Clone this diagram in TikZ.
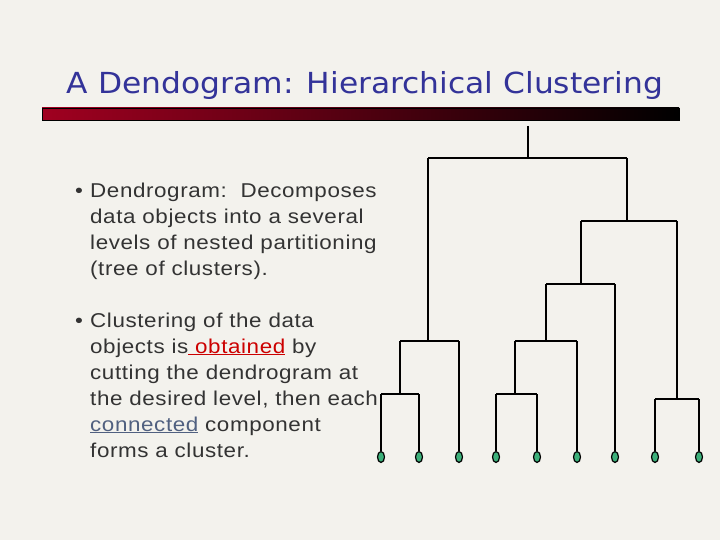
\documentclass[tikz,border=0pt]{standalone}
\usepackage{fontspec}
\setmainfont{Liberation Sans}
\newfontfamily\bodyf[FakeStretch=1.12,LetterSpace=3]{Liberation Sans}
\newfontfamily\titlef[FakeStretch=1.08]{DejaVu Sans}
\usetikzlibrary{shapes.geometric}
\definecolor{bg}{HTML}{F3F2ED}
\definecolor{ttl}{HTML}{333399}
\definecolor{txt}{HTML}{333333}
\definecolor{barL}{HTML}{A00020}
\definecolor{leafc}{HTML}{3CB07A}
\definecolor{lnk}{HTML}{506080}
\begin{document}
\begin{tikzpicture}[x=1pt,y=-1pt,
  ln/.style={anchor=base west,inner sep=0pt,text=txt,font=\bodyf\fontsize{20}{24}\selectfont},
  br/.style={line width=2.4pt,black},
  leaf/.style={ellipse,draw=black,line width=1.2pt,fill=leafc,minimum width=7pt,minimum height=11pt,inner sep=0pt}]
\fill[bg] (0,0) rectangle (720,540);
\useasboundingbox (0,0) rectangle (720,540);
\node[anchor=base,text=ttl,font=\titlef\fontsize{29}{34}\selectfont,inner sep=0pt] (title) at (365,94) {A Dendogram: Hierarchical Clustering};
\shade[left color=barL,right color=black] (42,108) rectangle (679,120);
\draw[black,line width=0.8pt] (42,108) rectangle (679,120);
% bullets
\node[ln] (b1) at (75,197) {•};
\node[ln] (l1) at (90,197) {Dendrogram:\ \ Decomposes};
\node[ln] (l2) at (90,223) {data objects into a several};
\node[ln] (l3) at (90,249) {levels of nested partitioning};
\node[ln] (l4) at (90,275) {(tree of clusters).};
\node[ln] (b2) at (75,327) {•};
\node[ln] (m1) at (90,327) {Clustering of the data};
\node[ln] (m2) at (90,353) {objects is{\color{red!80!black}\underline{\ obtained}} by};
\node[ln] (m3) at (90,379) {cutting the dendrogram at};
\node[ln] (m4) at (90,405) {the desired level, then each};
\node[ln] (m5) at (90,431) {{\color{lnk}\underline{connected}} component};
\node[ln] (m6) at (90,457) {forms a cluster.};
% leaves
\foreach \n/\x in {1/381,2/419,3/459,4/496,5/537,6/577,7/615,8/655,9/699}
  \node[leaf] (f\n) at (\x,457) {};
% tree
\coordinate (r) at (528,126);
\draw[br] (r) -- (528,158);
\draw[br] (428,158) -- (627,158);
\draw[br] (428,158) -- (428,341);
\draw[br] (400,341) -- (459,341);
\draw[br] (459,341) -- (f3.north);
\draw[br] (400,341) -- (400,394);
\draw[br] (381,394) -- (419,394);
\draw[br] (381,394) -- (f1.north);
\draw[br] (419,394) -- (f2.north);
\draw[br] (627,158) -- (627,221);
\draw[br] (581,221) -- (677,221);
\draw[br] (677,221) -- (677,399);
\draw[br] (655,399) -- (699,399);
\draw[br] (655,399) -- (f8.north);
\draw[br] (699,399) -- (f9.north);
\draw[br] (581,221) -- (581,284);
\draw[br] (546,284) -- (615,284);
\draw[br] (615,284) -- (f7.north);
\draw[br] (546,284) -- (546,341);
\draw[br] (515,341) -- (577,341);
\draw[br] (577,341) -- (f6.north);
\draw[br] (515,341) -- (515,394);
\draw[br] (496,394) -- (537,394);
\draw[br] (496,394) -- (f4.north);
\draw[br] (537,394) -- (f5.north);
\end{tikzpicture}
\end{document}
